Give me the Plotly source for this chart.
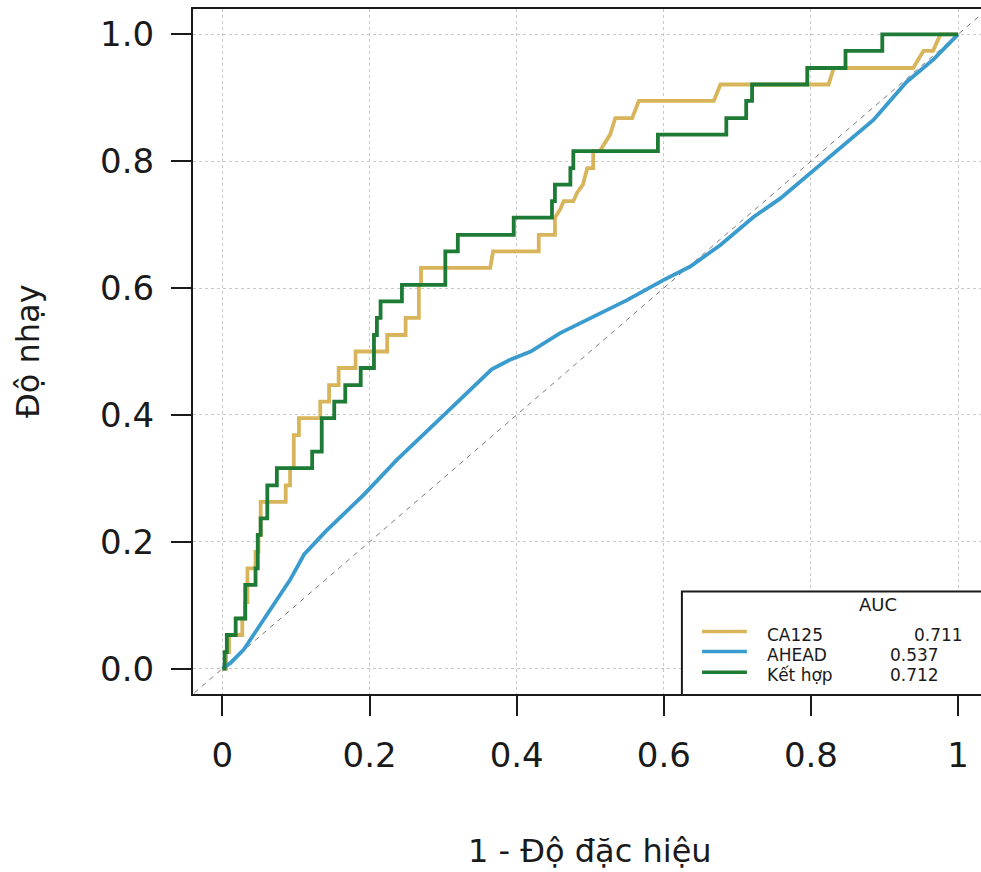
import plotly.graph_objects as go

# ---------------- data ----------------
ca125_fpr = [0, 0.005, 0.005, 0.009, 0.009, 0.027, 0.027, 0.031, 0.031, 0.034, 0.034, 0.045, 0.045,
             0.049, 0.049, 0.052, 0.052, 0.086, 0.086, 0.092, 0.092, 0.097, 0.097, 0.104, 0.104,
             0.133, 0.133, 0.145, 0.145, 0.158, 0.158, 0.181, 0.181, 0.224, 0.224, 0.249, 0.249,
             0.267, 0.267, 0.270, 0.270, 0.364, 0.368, 0.430, 0.430, 0.452, 0.452, 0.459, 0.464,
             0.477, 0.482, 0.490, 0.496, 0.504, 0.504, 0.513, 0.527, 0.534, 0.557, 0.566, 0.668,
             0.677, 0.824, 0.831, 0.939, 0.953, 0.966, 0.976, 1.0]
ca125_tpr = [0, 0, 0.026, 0.026, 0.053, 0.053, 0.079, 0.079, 0.105, 0.105, 0.158, 0.158, 0.184,
             0.184, 0.211, 0.211, 0.263, 0.263, 0.289, 0.289, 0.316, 0.316, 0.368, 0.368, 0.395,
             0.395, 0.421, 0.421, 0.447, 0.447, 0.474, 0.474, 0.500, 0.500, 0.526, 0.526, 0.553,
             0.553, 0.605, 0.605, 0.632, 0.632, 0.658, 0.658, 0.684, 0.684, 0.711, 0.724, 0.737,
             0.737, 0.750, 0.763, 0.789, 0.789, 0.816, 0.816, 0.842, 0.868, 0.868, 0.895, 0.895,
             0.921, 0.921, 0.947, 0.947, 0.974, 0.974, 1.0, 1.0]

ahead_fpr = [0, 0.011, 0.029, 0.047, 0.074, 0.092, 0.111, 0.140, 0.192, 0.237, 0.292, 0.342,
             0.366, 0.391, 0.419, 0.459, 0.505, 0.550, 0.600, 0.636, 0.677, 0.722, 0.758, 0.799,
             0.826, 0.849, 0.885, 0.930, 0.967, 1.0]
ahead_tpr = [0, 0.009, 0.030, 0.061, 0.109, 0.140, 0.180, 0.216, 0.274, 0.329, 0.390, 0.445,
             0.472, 0.487, 0.500, 0.529, 0.555, 0.581, 0.613, 0.634, 0.668, 0.712, 0.741, 0.781,
             0.807, 0.828, 0.865, 0.925, 0.961, 1.0]

comb_fpr = [0, 0.003, 0.003, 0.006, 0.006, 0.018, 0.018, 0.031, 0.031, 0.045, 0.045, 0.048, 0.048,
            0.052, 0.052, 0.061, 0.061, 0.074, 0.074, 0.122, 0.122, 0.135, 0.135, 0.152, 0.152,
            0.167, 0.167, 0.188, 0.188, 0.206, 0.206, 0.210, 0.210, 0.215, 0.215, 0.244, 0.244,
            0.303, 0.303, 0.320, 0.320, 0.396, 0.396, 0.448, 0.448, 0.452, 0.452, 0.473, 0.473,
            0.477, 0.477, 0.592, 0.592, 0.685, 0.685, 0.712, 0.712, 0.720, 0.720, 0.795, 0.795,
            0.847, 0.847, 0.897, 0.897, 1.0]
comb_tpr = [0, 0, 0.026, 0.026, 0.053, 0.053, 0.079, 0.079, 0.132, 0.132, 0.158, 0.158, 0.211,
            0.211, 0.237, 0.237, 0.289, 0.289, 0.316, 0.316, 0.342, 0.342, 0.395, 0.395, 0.421,
            0.421, 0.447, 0.447, 0.474, 0.474, 0.526, 0.526, 0.553, 0.553, 0.579, 0.579, 0.605,
            0.605, 0.658, 0.658, 0.684, 0.684, 0.711, 0.711, 0.737, 0.737, 0.763, 0.763, 0.789,
            0.789, 0.816, 0.816, 0.842, 0.842, 0.868, 0.868, 0.895, 0.895, 0.921, 0.921, 0.947,
            0.947, 0.974, 0.974, 1.0, 1.0]

series_names = ["CA125", "AHEAD", "Kết hợp"]
auc_values = ["0.711", "0.537", "0.712"]
series_colors = ["#D8B55B", "#3A9BCF", "#1E7B35"]

x_tick_vals = [0, 0.2, 0.4, 0.6, 0.8, 1.0]
x_tick_text = ["0", "0.2", "0.4", "0.6", "0.8", "1"]
y_tick_vals = [0, 0.2, 0.4, 0.6, 0.8, 1.0]
y_tick_text = ["0.0", "0.2", "0.4", "0.6", "0.8", "1.0"]

x_title = "1 - Độ đặc hiệu"
y_title = "Độ nhạy"
legend_title = "AUC"

FONT = "DejaVu Sans"
TXT = "#1a1a1a"

# ---------------- figure ----------------
fig = go.Figure()

# chance diagonal
fig.add_trace(go.Scatter(x=[-0.1, 1.1], y=[-0.1, 1.1], mode="lines",
                         line=dict(color="#7a7a7a", width=1, dash="5px,5px"),
                         showlegend=False, hoverinfo="skip"))

curves = [(ca125_fpr, ca125_tpr), (ahead_fpr, ahead_tpr), (comb_fpr, comb_tpr)]
for (xs, ys), name, col in zip(curves, series_names, series_colors):
    fig.add_trace(go.Scatter(x=xs, y=ys, mode="lines", name=name,
                             line=dict(color=col, width=3.8), showlegend=False))

axis_common = dict(
    showline=True, linecolor=TXT, linewidth=2,
    ticks="outside", ticklen=20, tickwidth=1.5, tickcolor=TXT,
    showgrid=True, gridcolor="#c9c9c9", gridwidth=1, griddash="dot",
    zeroline=False, tickfont=dict(family=FONT, size=34, color=TXT),
)

fig.update_xaxes(range=[-0.04, 1.0312], tickvals=x_tick_vals, ticktext=x_tick_text,
                 mirror=True, ticklabelstandoff=10, **axis_common)
fig.update_yaxes(range=[-0.04, 1.04], tickvals=y_tick_vals, ticktext=y_tick_text,
                 mirror=False, ticklabelstandoff=10, **axis_common)

# axis titles
fig.add_annotation(text=x_title, x=0.5, xref="x", y=-0.229, yref="paper",
                   showarrow=False, xanchor="center", yanchor="middle",
                   font=dict(family=FONT, size=32, color=TXT))
fig.add_annotation(text=y_title, x=-0.21, xref="paper", y=0.5, yref="y",
                   showarrow=False, xanchor="center", yanchor="middle", textangle=-90,
                   font=dict(family=FONT, size=32, color=TXT))

# legend box (bottom-right inset)
fig.add_shape(type="rect", xref="x", yref="y", x0=0.6246, x1=1.2, y0=-0.2, y1=0.1217,
              line=dict(color=TXT, width=2), fillcolor="white", layer="above")
fig.add_annotation(text=legend_title, x=0.891, xref="x", y=0.1008, yref="y",
                   showarrow=False, xanchor="center", yanchor="middle",
                   font=dict(family=FONT, size=18, color=TXT))
row_line_y = [0.0587, 0.0272, -0.0058]
row_text_y = [0.0535, 0.0215, -0.0100]
value_x = [0.9375, 0.9049, 0.9049]
for i, (name, auc, col) in enumerate(zip(series_names, auc_values, series_colors)):
    fig.add_shape(type="line", xref="x", yref="y", x0=0.652, x1=0.713,
                  y0=row_line_y[i], y1=row_line_y[i], line=dict(color=col, width=3.5),
                  layer="above")
    fig.add_annotation(text=name, x=0.7378, xref="x", y=row_text_y[i], yref="y",
                       showarrow=False, xanchor="left", yanchor="middle",
                       font=dict(family=FONT, size=17, color=TXT))
    fig.add_annotation(text=auc, x=value_x[i], xref="x", y=row_text_y[i], yref="y",
                       showarrow=False, xanchor="left", yanchor="middle",
                       font=dict(family=FONT, size=17, color=TXT))

fig.update_layout(
    width=981, height=872,
    margin=dict(l=192.6, r=0, t=8.6, b=177.6, pad=0),
    plot_bgcolor="white", paper_bgcolor="white",
    showlegend=False,
)

fig.write_html("out.html")
